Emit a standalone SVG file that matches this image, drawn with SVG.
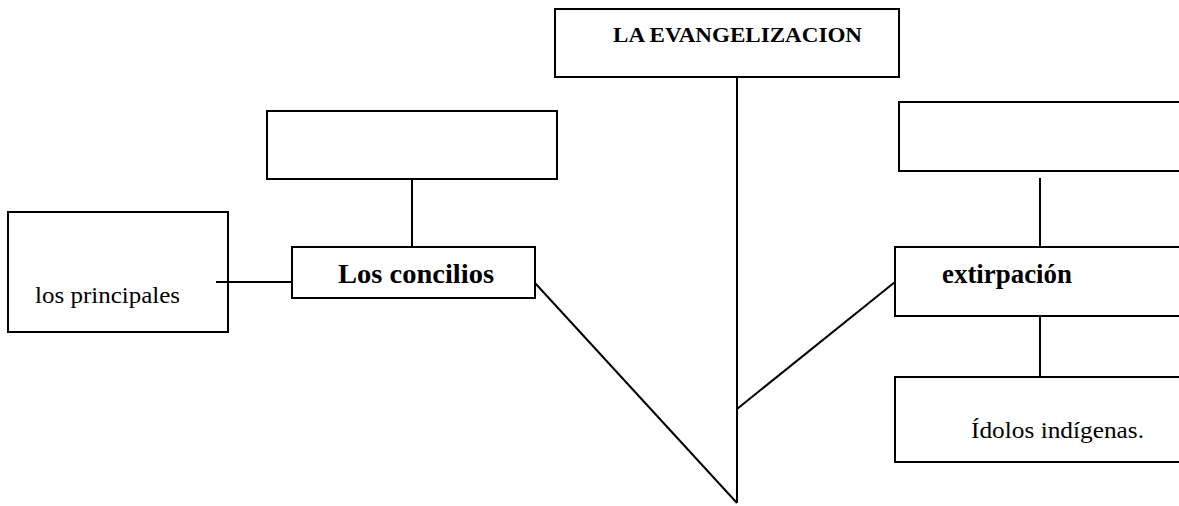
<svg xmlns="http://www.w3.org/2000/svg" width="1179" height="506" viewBox="0 0 1179 506">
<style>
.box{fill:#fff;stroke:#000;stroke-width:2}
.con{fill:none;stroke:#000;stroke-width:2}
.t{font-family:"Liberation Serif","Times New Roman",serif;fill:#000}
.b{font-weight:bold}
</style>
<rect width="1179" height="506" fill="#fff"/>
<g id="connectors">
<line class="con" x1="737" y1="77" x2="737" y2="503"/>
<line class="con" x1="535" y1="283" x2="737" y2="503"/>
<line class="con" x1="895" y1="282" x2="737" y2="409"/>
<line class="con" x1="412" y1="179" x2="412" y2="247"/>
<line class="con" x1="216" y1="282" x2="292" y2="282"/>
<line class="con" x1="1040" y1="178" x2="1040" y2="247"/>
<line class="con" x1="1040" y1="316" x2="1040" y2="383"/>
</g>
<g id="n-evangelizacion">
<rect class="box" x="555" y="9" width="344" height="68"/>
<text class="t b" x="613" y="42" font-size="21" textLength="249" lengthAdjust="spacingAndGlyphs">LA EVANGELIZACION</text>
</g>
<g id="n-left-empty">
<rect class="box" x="267" y="111" width="290" height="68"/>
</g>
<g id="n-principales">
<rect class="box" x="8" y="212" width="220" height="120"/>
<text class="t" x="35" y="303" font-size="23" textLength="145" lengthAdjust="spacingAndGlyphs">los principales</text>
</g>
<line class="con" x1="216" y1="282" x2="228" y2="282"/>
<g id="n-concilios">
<rect class="box" x="292" y="247" width="243" height="51"/>
<text class="t b" x="338" y="283" font-size="28" textLength="156" lengthAdjust="spacingAndGlyphs">Los concilios</text>
</g>
<g id="n-right-empty">
<rect class="box" x="899" y="102" width="290" height="69"/>
</g>
<g id="n-extirpacion">
<rect class="box" x="895" y="247" width="294" height="69"/>
<text class="t b" x="942" y="283" font-size="27" textLength="130" lengthAdjust="spacingAndGlyphs">extirpación</text>
</g>
<g id="n-idolos">
<rect class="box" x="895" y="377" width="294" height="85"/>
<text class="t" x="971" y="438" font-size="23" textLength="173" lengthAdjust="spacingAndGlyphs">Ídolos indígenas.</text>
</g>
</svg>
